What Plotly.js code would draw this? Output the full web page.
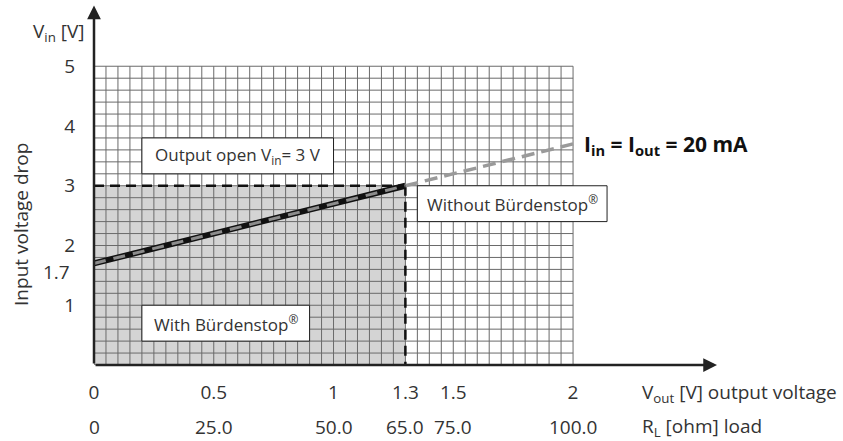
<!DOCTYPE html>
<html>
<head>
<meta charset="utf-8">
<script src="https://cdn.plot.ly/plotly-3.0.1.min.js"></script>
<style>html,body{margin:0;padding:0;background:#fff}#chart{width:843px;height:441px}</style>
</head>
<body>
<div id="chart"></div>
<script>
// ---- data ----
const withX = [0, 1.3];          // Vout [V], with Bürdenstop
const withY = [1.7, 3.0];        // Vin drop [V]
const withoutX = [1.3, 2.0];     // Vout [V], without Bürdenstop
const withoutY = [3.0, 3.7];
const openVin = 3.0;             // output open Vin
const limitVout = 1.3;           // Vout limit
const xTickVals = [0, 0.5, 1, 1.3, 1.5, 2];
const xTickText = ['0', '0.5', '1', '1.3', '1.5', '2'];
const rlTickText = ['0', '25.0', '50.0', '65.0', '75.0', '100.0'];
const xTickMarks = [0.5, 1, 1.5, 2];
const yTickVals = [1, 2, 3, 4, 5];
const gridXMax = 2, gridYMax = 5, gridDx = 0.05, gridDy = 0.2;

const XMAX = 2.601, YMAX = 6.025;
const FONT = 'Open Sans, Noto Sans, sans-serif';
const TXT = '#333';
const TF = 19;

const shapes = [];
// shaded region
shapes.push({type:'rect', xref:'x', yref:'y', x0:0, x1:limitVout, y0:0, y1:openVin,
  fillcolor:'#d4d4d4', line:{width:0}, layer:'below'});
// grid
for (let i = 0; i <= Math.round(gridXMax/gridDx); i++) {
  const x = i*gridDx;
  shapes.push({type:'line', xref:'x', yref:'y', x0:x, x1:x, y0:0, y1:gridYMax,
    line:{color:'#6a6a6a', width:1}, layer:'below'});
}
for (let j = 0; j <= Math.round(gridYMax/gridDy); j++) {
  const y = j*gridDy;
  shapes.push({type:'line', xref:'x', yref:'y', x0:0, x1:gridXMax, y0:y, y1:y,
    line:{color:'#6a6a6a', width:1}, layer:'below'});
}
// x tick marks
xTickMarks.forEach(v => shapes.push({type:'line', xref:'x', yref:'y', ysizemode:'pixel', yanchor:0,
  x0:v, x1:v, y0:0, y1:-9, line:{color:'#222', width:2.5}}));
// y tick marks
yTickVals.forEach(v => shapes.push({type:'line', xref:'x', yref:'y', xsizemode:'pixel', xanchor:0,
  x0:0, x1:-9, y0:v, y1:v, line:{color:'#222', width:2.5}}));
// text boxes
const boxes = [
  {x0:0.2, x1:1.0, y0:3.2, y1:3.8, text:'Output open V<sub>in</sub>= 3 V'},
  {x0:0.2, x1:0.9, y0:0.4, y1:1.0, text:'With Bürdenstop<sup>®</sup>'},
  {x0:1.35, x1:2.142, y0:2.4, y1:3.0, text:'Without Bürdenstop<sup>®</sup>'}
];
boxes.forEach(b => shapes.push({type:'rect', xref:'x', yref:'y', x0:b.x0, x1:b.x1, y0:b.y0, y1:b.y1,
  fillcolor:'#fff', line:{color:'#222', width:1}, layer:'above'}));

const annotations = [];
boxes.forEach(b => annotations.push({xref:'x', yref:'y', x:(b.x0+b.x1)/2, y:(b.y0+b.y1)/2,
  text:b.text, showarrow:false, font:{family:FONT, size:17, color:TXT}, xanchor:'center', yanchor:'middle'}));
// axes arrows
annotations.push({xref:'x', yref:'y', axref:'x', ayref:'y', x:XMAX, y:0, ax:0, ay:0, text:'',
  showarrow:true, arrowhead:2, arrowsize:1.1, arrowwidth:2.5, arrowcolor:'#222', standoff:0});
annotations.push({xref:'x', yref:'y', axref:'x', ayref:'y', x:0, y:YMAX-0.01, ax:0, ay:0, text:'',
  showarrow:true, arrowhead:2, arrowsize:1.1, arrowwidth:2.5, arrowcolor:'#222', standoff:0});
// helpers for labels outside the axis ranges (paper coordinates from data values)
const px = v => v / XMAX, py = v => v / YMAX;
// second row of x tick labels (R_L)
xTickVals.forEach((v, i) => annotations.push({xref:'paper', yref:'paper', x:px(v), y:py(-1.04), text:rlTickText[i],
  showarrow:false, font:{family:FONT, size:TF, color:TXT}, xanchor:'center', yanchor:'middle'}));
annotations.push({xref:'paper', yref:'paper', x:px(-0.093), y:py(1.56), text:'1.7', showarrow:false,
  font:{family:FONT, size:TF, color:TXT}, xanchor:'right', yanchor:'middle'});
annotations.push({xref:'paper', yref:'paper', x:px(2.28), y:py(-0.47), text:'V<sub>out</sub> [V] output voltage', showarrow:false,
  font:{family:FONT, size:TF, color:TXT}, xanchor:'left', yanchor:'middle'});
annotations.push({xref:'paper', yref:'paper', x:px(2.28), y:py(-1.04), text:'R<sub>L</sub> [ohm] load', showarrow:false,
  font:{family:FONT, size:TF, color:TXT}, xanchor:'left', yanchor:'middle'});
annotations.push({xref:'paper', yref:'paper', x:px(-0.03), y:py(5.57), text:'V<sub>in</sub> [V]', showarrow:false,
  font:{family:FONT, size:TF, color:TXT}, xanchor:'right', yanchor:'middle'});
annotations.push({xref:'paper', yref:'paper', x:px(-0.305), y:py(2.36), text:'Input voltage drop', showarrow:false,
  textangle:-90, font:{family:FONT, size:TF, color:TXT}, xanchor:'center', yanchor:'middle'});
annotations.push({xref:'x', yref:'y', x:2.038, y:3.68, text:'<b>I<sub>in</sub> = I<sub>out</sub> = 20 mA</b>', showarrow:false,
  font:{family:FONT, size:21, color:'#111'}, xanchor:'left', yanchor:'middle'});

const traces = [
  {x:[0, limitVout], y:[openVin, openVin], mode:'lines', line:{color:'#111', width:2.5, dash:'10px,6px'}, hoverinfo:'skip'},
  {x:[limitVout, limitVout], y:[openVin, 0], mode:'lines', line:{color:'#111', width:2.5, dash:'10px,6px'}, hoverinfo:'skip'},
  {x:withoutX, y:withoutY, mode:'lines', line:{color:'#9a9a9a', width:3.5, dash:'13px,7px'}, hoverinfo:'skip'},
  {x:withX, y:withY, mode:'lines', line:{color:'#111', width:6}, hoverinfo:'skip'},
  {x:withX, y:withY, mode:'lines', line:{color:'#8c8c8c', width:3, dash:'12px,8px'}, hoverinfo:'skip'}
];

const layout = {
  width:843, height:441,
  margin:{l:94, r:126, t:5, b:76},
  paper_bgcolor:'#fff', plot_bgcolor:'#fff',
  showlegend:false,
  font:{family:FONT, size:TF, color:TXT},
  xaxis:{range:[0, XMAX], showgrid:false, zeroline:false, showline:false,
    tickmode:'array', tickvals:xTickVals, ticktext:xTickText, ticks:'', ticklabelstandoff:14,
    tickfont:{family:FONT, size:TF, color:TXT}, fixedrange:true},
  yaxis:{range:[0, YMAX], showgrid:false, zeroline:false, showline:false,
    tickmode:'array', tickvals:yTickVals, ticktext:yTickVals.map(String), ticks:'', ticklabelstandoff:18,
    tickfont:{family:FONT, size:TF, color:TXT}, fixedrange:true},
  shapes:shapes,
  annotations:annotations
};

Plotly.newPlot('chart', traces, layout, {displayModeBar:false, staticPlot:true});
</script>
</body>
</html>
